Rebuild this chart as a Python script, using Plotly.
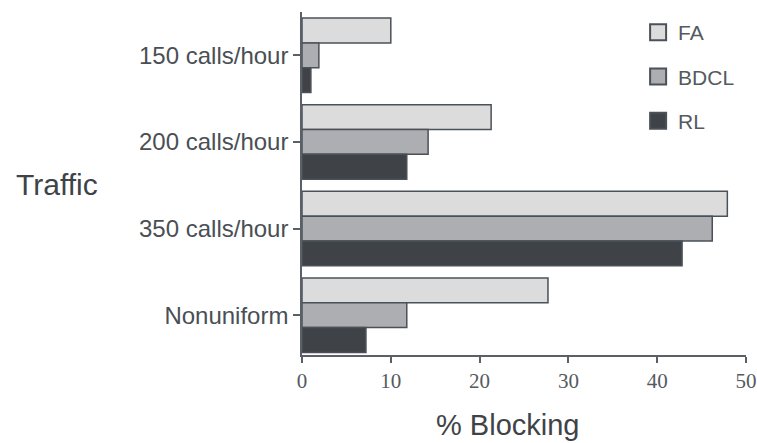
import plotly.graph_objects as go

categories = ["150 calls/hour", "200 calls/hour", "350 calls/hour", "Nonuniform"]
series_names = ["FA", "BDCL", "RL"]
fa_values = [10.0, 21.3, 47.9, 27.7]
bdcl_values = [1.9, 14.2, 46.2, 11.8]
rl_values = [1.0, 11.8, 42.8, 7.2]
x_ticks = [0, 10, 20, 30, 40, 50]

colors = ["#dcdcdc", "#adaeb1", "#3f4348"]
values = [fa_values, bdcl_values, rl_values]
edge = "#4b5158"

fig = go.Figure()
for name, vals, col in zip(series_names, values, colors):
    fig.add_trace(go.Bar(
        y=categories, x=vals, name=name, orientation="h",
        marker=dict(color=col, line=dict(color=edge, width=1.5)),
        showlegend=False,
    ))
# legend entries with larger square swatches
for name, col in zip(series_names, colors):
    fig.add_trace(go.Scatter(
        x=[None], y=[None], mode="markers", name=name, legendgroup=name,
        marker=dict(symbol="square", size=16, color=col,
                    line=dict(color=edge, width=2)),
    ))

axis_color = "#5a6068"
fig.update_layout(
    width=757, height=443,
    margin=dict(l=302, r=11, t=12, b=88, autoexpand=False),
    plot_bgcolor="white", paper_bgcolor="white",
    barmode="group", bargap=0.14, bargroupgap=0,
    font=dict(family="Liberation Sans, Arial, sans-serif", color="#4a4f55"),
    legend=dict(x=0.757, y=1.0, xanchor="left", yanchor="top",
                traceorder="grouped", tracegroupgap=14, itemsizing="trace",
                font=dict(size=21, color="#555a60"),
                bgcolor="rgba(0,0,0,0)"),
    xaxis=dict(range=[0, 50], tickvals=x_ticks, showgrid=False, zeroline=False,
               showline=True, linecolor=axis_color, linewidth=1.5,
               ticks="outside", ticklen=6, tickcolor=axis_color, tickwidth=1.5,
               ticklabeloverflow="allow", automargin=False,
               tickfont=dict(family="Liberation Serif, Times New Roman, serif", size=21, color="#555a60")),
    yaxis=dict(categoryorder="array", categoryarray=categories,
               range=[3.46, -0.5], showgrid=False, zeroline=False,
               showline=True, linecolor=axis_color, linewidth=1.5, automargin=False,
               ticks="outside", ticklen=7, tickcolor=axis_color, tickwidth=1.5,
               tickfont=dict(size=24, color="#4a4f55")),
    annotations=[
        dict(text="Traffic", x=-0.648, y=0.496, xref="paper", yref="paper",
             xanchor="left", yanchor="middle", showarrow=False,
             font=dict(size=30, color="#3e4348")),
        dict(text="% Blocking", x=0.462, y=-0.205, xref="paper", yref="paper",
             xanchor="center", yanchor="middle", showarrow=False,
             font=dict(size=29, color="#3e4348")),
    ],
)

fig.write_html("out.html",
               config={"displayModeBar": False},
               post_script="document.body.style.margin='0';document.body.style.overflow='hidden';")
